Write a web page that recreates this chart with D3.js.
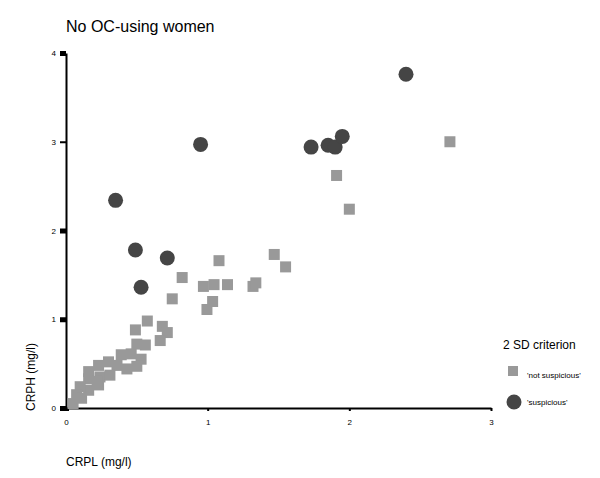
<!DOCTYPE html>
<html>
<head>
<meta charset="utf-8">
<script src="https://cdn.jsdelivr.net/npm/d3@7"></script>
<style>
  body { margin: 0; background: #fff; }
  text { font-family: "Liberation Sans", Arial, sans-serif; fill: #000; }
  .tick text { font-size: 8px; }
</style>
</head>
<body>
<script>
// Data (CRPL, CRPH in mg/l)
var notSuspiciousX = [2.71, 1.91, 2.00, 1.08, 0.82, 0.97, 1.045, 1.14, 1.32, 1.34, 1.47, 1.55,
  0.75, 1.035, 0.995, 0.574, 0.49, 0.68, 0.715, 0.665, 0.56, 0.50,
  0.39, 0.46, 0.53, 0.50, 0.43, 0.36, 0.30, 0.23, 0.16, 0.16, 0.24, 0.31, 0.23, 0.16, 0.10, 0.075, 0.05, 0.11, 0.22];
var notSuspiciousY = [3.00, 2.62, 2.24, 1.66, 1.47, 1.37, 1.39, 1.39, 1.37, 1.41, 1.73, 1.59,
  1.23, 1.20, 1.11, 0.98, 0.88, 0.92, 0.85, 0.76, 0.71, 0.72,
  0.60, 0.61, 0.55, 0.47, 0.44, 0.48, 0.52, 0.48, 0.41, 0.33, 0.35, 0.37, 0.26, 0.20, 0.24, 0.15, 0.05, 0.11, 0.30];

var suspiciousX = [2.40, 0.95, 1.73, 1.85, 1.90, 1.95, 0.35, 0.49, 0.715, 0.53];
var suspiciousY = [3.76, 2.97, 2.94, 2.96, 2.94, 3.06, 2.34, 1.78, 1.69, 1.36];

var xTicks = [0, 1, 2, 3];
var yTicks = [0, 1, 2, 3, 4];

var svgWidth = 600;
var svgHeight = 478;

var margin = { top: 53, left: 66 };
var width = 425;
var height = 355;

var svg = d3.select("body")
  .append("svg")
  .attr("width", svgWidth)
  .attr("height", svgHeight);

var chartGroup = svg.append("g")
  .attr("transform", `translate(${margin.left}, ${margin.top})`);

var xScale = d3.scaleLinear().domain([0, 3]).range([0, width]);
var yScale = d3.scaleLinear().domain([0, 4]).range([height, 0]);

// axes
var bottomAxis = d3.axisBottom(xScale).tickValues(xTicks).tickFormat(d3.format("d"))
  .tickSize(3).tickPadding(8).tickSizeOuter(0);
var leftAxis = d3.axisLeft(yScale).tickValues(yTicks).tickFormat(d3.format("d"))
  .tickSize(6).tickPadding(4).tickSizeOuter(0);

var xg = chartGroup.append("g")
  .attr("transform", `translate(0, ${height})`)
  .call(bottomAxis);
xg.select(".domain").attr("stroke-width", 2);
xg.selectAll(".tick line").attr("stroke-width", d => d === 0 ? 5 : 2);

var yg = chartGroup.append("g").call(leftAxis);
yg.select(".domain").attr("stroke-width", 2);
yg.selectAll(".tick line").attr("stroke-width", d => d === 3 ? 2 : 5);

// not suspicious squares
var sq = 11;
chartGroup.selectAll("rect.ns")
  .data(notSuspiciousX.map((x, i) => [x, notSuspiciousY[i]]))
  .enter()
  .append("rect")
  .attr("class", "ns")
  .attr("x", d => xScale(d[0]) - sq / 2)
  .attr("y", d => yScale(d[1]) - sq / 2)
  .attr("width", sq)
  .attr("height", sq)
  .attr("fill", "#999999");

// suspicious circles
chartGroup.selectAll("circle.s")
  .data(suspiciousX.map((x, i) => [x, suspiciousY[i]]))
  .enter()
  .append("circle")
  .attr("class", "s")
  .attr("cx", d => xScale(d[0]))
  .attr("cy", d => yScale(d[1]))
  .attr("r", 7.5)
  .attr("fill", "#454545");

// title and axis labels
svg.append("text")
  .attr("x", 66)
  .attr("y", 32)
  .style("font-size", "16px")
  .text("No OC-using women");

svg.append("text")
  .attr("transform", "translate(35, 411) rotate(-90)")
  .style("font-size", "12px")
  .text("CRPH (mg/l)");

svg.append("text")
  .attr("x", 66)
  .attr("y", 466)
  .style("font-size", "12px")
  .text("CRPL (mg/l)");

// legend
var legend = svg.append("g").attr("transform", "translate(503, 0)");
legend.append("text")
  .attr("x", 0)
  .attr("y", 349)
  .style("font-size", "12px")
  .text("2 SD criterion");
legend.append("rect")
  .attr("x", 5).attr("y", 366)
  .attr("width", 10).attr("height", 10)
  .attr("fill", "#999999");
legend.append("text")
  .attr("x", 24).attr("y", 378)
  .style("font-size", "8px")
  .text("'not suspicious'");
legend.append("circle")
  .attr("cx", 11).attr("cy", 402)
  .attr("r", 7.5)
  .attr("fill", "#454545");
legend.append("text")
  .attr("x", 24).attr("y", 405)
  .style("font-size", "8px")
  .text("'suspicious'");
</script>
</body>
</html>
